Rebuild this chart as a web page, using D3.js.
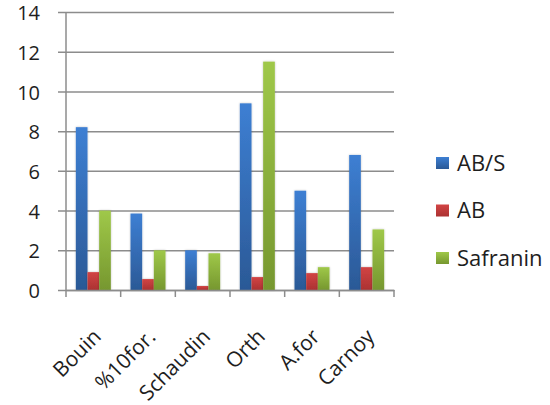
<!DOCTYPE html>
<html>
<head>
<meta charset="utf-8">
<script src="https://cdn.jsdelivr.net/npm/d3@7/dist/d3.min.js"></script>
<style>
  html, body { margin: 0; padding: 0; background: #fff; }
  svg { display: block; }
  text { font-family: "Open Sans", "Liberation Sans", sans-serif; fill: #1e1e1e; }
</style>
</head>
<body>
<svg id="chart" width="550" height="405"></svg>
<script>
// Fixatives compared by stain
const categories = ["Bouin", "%10for.", "Schaudin", "Orth", "A.for", "Carnoy"];
const seriesNames = ["AB/S", "AB", "Safranin"];
const abs      = [8.2, 3.85, 2.0, 9.4, 5.0, 6.8];
const ab       = [0.9, 0.55, 0.2, 0.65, 0.85, 1.15];
const safranin = [4.0, 2.0, 1.85, 11.5, 1.15, 3.05];
const yTicks   = [0, 2, 4, 6, 8, 10, 12, 14];

const seriesValues = [abs, ab, safranin];
const colorsTop    = ["#3d7fd3", "#d24444", "#9fc849"];
const colorsBottom = ["#2b5996", "#ab3232", "#76972f"];

const svg = d3.select("#chart");
const plotLeft = 66, plotRight = 394, plotTop = 12, plotBottom = 290;

const x0 = d3.scaleBand().domain(categories).range([plotLeft, plotRight])
  .paddingInner(0.36).paddingOuter(0.18);
const x1 = d3.scaleBand().domain(seriesNames).range([0, x0.bandwidth()]);
const y = d3.scaleLinear().domain([0, 14]).range([plotBottom, plotTop]);

const defs = svg.append("defs");
seriesNames.forEach((s, i) => {
  const g = defs.append("linearGradient").attr("id", "grad" + i)
    .attr("x1", 0).attr("y1", 0).attr("x2", 0).attr("y2", 1);
  g.append("stop").attr("offset", "0%").attr("stop-color", colorsTop[i]);
  g.append("stop").attr("offset", "100%").attr("stop-color", colorsBottom[i]);
});
const shadow = defs.append("filter").attr("id", "soft")
  .attr("x", "-50%").attr("y", "-10%").attr("width", "200%").attr("height", "120%");
shadow.append("feGaussianBlur").attr("in", "SourceAlpha").attr("stdDeviation", 1.2).attr("result", "b");
shadow.append("feComponentTransfer").attr("in", "b").attr("result", "s")
  .append("feFuncA").attr("type", "linear").attr("slope", 0.25);
const merge = shadow.append("feMerge");
merge.append("feMergeNode").attr("in", "s");
merge.append("feMergeNode").attr("in", "SourceGraphic");

// Horizontal gridlines with y-axis ticks
const yAxis = d3.axisLeft(y).tickValues(yTicks).tickSize(-(plotRight - plotLeft)).tickPadding(26).tickFormat(d3.format("d"));
const gy = svg.append("g").attr("transform", `translate(${plotLeft},0)`).call(yAxis);
gy.select(".domain").remove();
gy.selectAll(".tick line").attr("x1", -8).attr("stroke", "#8c8c8c").attr("stroke-width", 1.5);
gy.selectAll(".tick text").style("font-size", "20px").attr("dy", "0.38em");

// Bars
const groups = svg.append("g").selectAll("g").data(categories).join("g")
  .attr("transform", d => `translate(${x0(d)},0)`);
groups.selectAll("rect")
  .data((c, ci) => seriesNames.map((s, si) => ({ s, si, v: seriesValues[si][ci] })))
  .join("rect")
  .attr("x", d => x1(d.s))
  .attr("y", d => y(d.v))
  .attr("width", x1.bandwidth())
  .attr("height", d => y(0) - y(d.v))
  .attr("fill", d => `url(#grad${d.si})`)
  .attr("filter", "url(#soft)");

// Vertical axis line
svg.append("line").attr("x1", plotLeft).attr("x2", plotLeft).attr("y1", plotTop).attr("y2", plotBottom)
  .attr("stroke", "#8c8c8c").attr("stroke-width", 1.5);

// Category axis
const xAxis = d3.axisBottom(x0).tickSize(0).tickFormat("");
const gx = svg.append("g").attr("transform", `translate(0,${plotBottom})`).call(xAxis);
gx.select(".domain").attr("stroke", "#8c8c8c").attr("stroke-width", 1.5);
const boundaries = [plotLeft].concat(categories.map(c => x0(c) - x0.step() * 0.18 + x0.step()));
gx.selectAll(".sep").data(boundaries).join("line").attr("class", "sep")
  .attr("x1", d => d).attr("x2", d => d).attr("y1", 0).attr("y2", 7)
  .attr("stroke", "#8c8c8c").attr("stroke-width", 1.5);

svg.append("g").selectAll("text").data(categories).join("text")
  .attr("transform", d => `translate(${x0(d) + x0.bandwidth() / 2 + 9},${plotBottom + 48}) rotate(-45)`)
  .attr("text-anchor", "end")
  .style("font-size", "21px")
  .text(d => d);

// Legend
const legend = svg.append("g").selectAll("g").data(seriesNames).join("g")
  .attr("transform", (d, i) => `translate(436,${163 + i * 47.5})`);
legend.append("rect").attr("x", 0).attr("y", -6).attr("width", 13).attr("height", 12)
  .attr("fill", (d, i) => `url(#grad${i})`);
legend.append("text").attr("x", 21).attr("dy", "0.36em").style("font-size", "22px").text(d => d);
</script>
</body>
</html>
